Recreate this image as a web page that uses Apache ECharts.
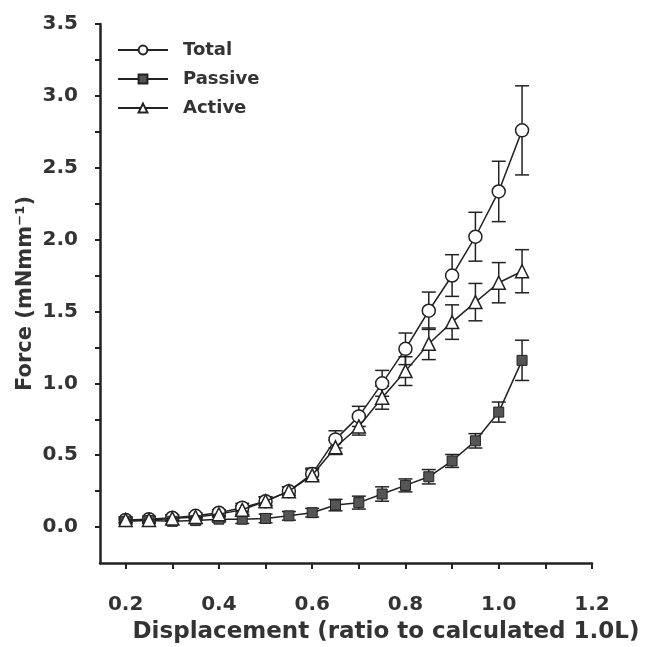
<!DOCTYPE html>
<html>
<head>
<meta charset="utf-8">
<script src="https://cdn.jsdelivr.net/npm/echarts@6/dist/echarts.min.js"></script>
<style>
  html, body { margin: 0; padding: 0; background: #fff; }
  #chart { width: 664px; height: 647px; }
</style>
</head>
<body>
<div id="chart"></div>
<script>
// displacement values (ratio to calculated 1.0L)
const xValues = [0.2, 0.25, 0.3, 0.35, 0.4, 0.45, 0.5, 0.55, 0.6, 0.65, 0.7, 0.75, 0.8, 0.85, 0.9, 0.95, 1.0, 1.05]

// means and error half-widths
const totalMean = [0.05, 0.055, 0.065, 0.078, 0.10, 0.135, 0.18, 0.25, 0.37, 0.61, 0.77, 1.0, 1.24, 1.505, 1.75, 2.02, 2.335, 2.76]
const totalErr = [0.02, 0.02, 0.02, 0.02, 0.02, 0.03, 0.03, 0.03, 0.04, 0.06, 0.07, 0.09, 0.11, 0.13, 0.145, 0.17, 0.21, 0.31]
const passiveMean = [0.04, 0.045, 0.04, 0.045, 0.055, 0.055, 0.06, 0.078, 0.10, 0.153, 0.17, 0.23, 0.29, 0.35, 0.46, 0.60, 0.80, 1.16]
const passiveErr = [0.02, 0.02, 0.02, 0.02, 0.02, 0.03, 0.03, 0.03, 0.03, 0.04, 0.045, 0.05, 0.045, 0.05, 0.045, 0.05, 0.07, 0.14]
const activeMean = [0.05, 0.05, 0.06, 0.07, 0.09, 0.12, 0.18, 0.25, 0.36, 0.555, 0.70, 0.90, 1.085, 1.275, 1.426, 1.565, 1.70, 1.78]
const activeErr = [0.02, 0.02, 0.02, 0.02, 0.02, 0.03, 0.03, 0.03, 0.04, 0.05, 0.06, 0.08, 0.10, 0.11, 0.12, 0.13, 0.14, 0.15]

// tick positions
const xLabelTicks = [0.2, 0.4, 0.6, 0.8, 1.0, 1.2]
const xMinorTicks = [0.2, 0.3, 0.4, 0.5, 0.6, 0.7, 0.8, 0.9, 1.0, 1.1, 1.2]
const yLabelTicks = [0, 0.5, 1.0, 1.5, 2.0, 2.5, 3.0, 3.5]
const yMinorTicks = [0, 0.25, 0.5, 0.75, 1.0, 1.25, 1.5, 1.75, 2.0, 2.25, 2.5, 2.75, 3.0, 3.25, 3.5]

const ink = '#222'
const font = '"DejaVu Sans", Arial, sans-serif'

const pairs = (ys) => xValues.map((x, i) => [x, ys[i]])
const errData = (ys, es) => xValues.map((x, i) => [x, ys[i] - es[i], ys[i] + es[i]])

const renderErr = (params, api) => {
  const lo = api.coord([api.value(0), api.value(1)])
  const hi = api.coord([api.value(0), api.value(2)])
  const cap = 7
  const style = { stroke: ink, lineWidth: 1.5 }
  return {
    type: 'group',
    children: [
      { type: 'line', shape: { x1: lo[0], y1: lo[1], x2: hi[0], y2: hi[1] }, style },
      { type: 'line', shape: { x1: lo[0] - cap, y1: lo[1], x2: lo[0] + cap, y2: lo[1] }, style },
      { type: 'line', shape: { x1: hi[0] - cap, y1: hi[1], x2: hi[0] + cap, y2: hi[1] }, style },
    ],
  }
}

const errSeries = (ys, es) => ({
  type: 'custom',
  renderItem: renderErr,
  data: errData(ys, es),
  encode: { x: 0, y: [1, 2] },
  z: 1,
  silent: true,
})

const chart = echarts.init(document.getElementById('chart'))

chart.setOption({
  animation: false,
  textStyle: { fontFamily: font },
  grid: { left: 100, right: 72, top: 24, bottom: 84, containLabel: false, outerBoundsMode: 'none' },
  legend: {
    orient: 'vertical',
    left: 112,
    top: 36,
    itemWidth: 50,
    itemHeight: 11,
    itemGap: 11,
    textStyle: { fontSize: 18, fontWeight: 'bold', color: '#333', fontFamily: font, padding: [0, 0, 0, 10] },
    data: ['Total', 'Passive', 'Active'],
  },
  xAxis: {
    type: 'value',
    min: 0.145,
    max: 1.2,
    splitLine: { show: false },
    axisLine: { onZero: false, lineStyle: { color: ink, width: 2.5 } },
    axisTick: { customValues: xMinorTicks, length: 6, lineStyle: { color: ink, width: 2 } },
    axisLabel: {
      customValues: xLabelTicks,
      formatter: (v) => v.toFixed(1),
      fontSize: 20,
      fontWeight: 'bold',
      color: '#333',
      margin: 32,
    },
    name: 'Displacement (ratio to calculated 1.0L)',
    nameLocation: 'middle',
    nameGap: 58,
    nameMoveOverlap: false,
    nameTextStyle: { fontSize: 23, fontWeight: 'bold', color: '#333', padding: [0, 0, 0, 80] },
  },
  yAxis: {
    type: 'value',
    min: -0.25,
    max: 3.5,
    splitLine: { show: false },
    axisLine: { onZero: false, lineStyle: { color: ink, width: 2.5 } },
    axisTick: { customValues: yMinorTicks, length: 5, lineStyle: { color: ink, width: 2 } },
    axisLabel: {
      customValues: yLabelTicks,
      formatter: (v) => v.toFixed(1),
      fontSize: 20,
      fontWeight: 'bold',
      color: '#333',
      margin: 22,
    },
    name: 'Force (mNmm⁻¹)',
    nameLocation: 'middle',
    nameGap: 64,
    nameMoveOverlap: false,
    nameTextStyle: { fontSize: 21, fontWeight: 'bold', color: '#333' },
  },
  series: [
    errSeries(totalMean, totalErr),
    errSeries(passiveMean, passiveErr),
    errSeries(activeMean, activeErr),
    {
      name: 'Total',
      type: 'line',
      data: pairs(totalMean),
      symbol: 'circle',
      symbolSize: 13,
      z: 3,
      lineStyle: { color: ink, width: 1.5 },
      itemStyle: { color: '#fff', borderColor: ink, borderWidth: 1.5 },
    },
    {
      name: 'Passive',
      type: 'line',
      data: pairs(passiveMean),
      symbol: 'rect',
      symbolSize: 10,
      z: 3,
      lineStyle: { color: ink, width: 1.5 },
      itemStyle: { color: '#555', borderColor: ink, borderWidth: 1 },
    },
    {
      name: 'Active',
      type: 'line',
      data: pairs(activeMean),
      symbol: 'triangle',
      symbolSize: 13,
      z: 4,
      lineStyle: { color: ink, width: 1.5 },
      itemStyle: { color: '#fff', borderColor: ink, borderWidth: 1.5 },
    },
  ],
})
</script>
</body>
</html>
